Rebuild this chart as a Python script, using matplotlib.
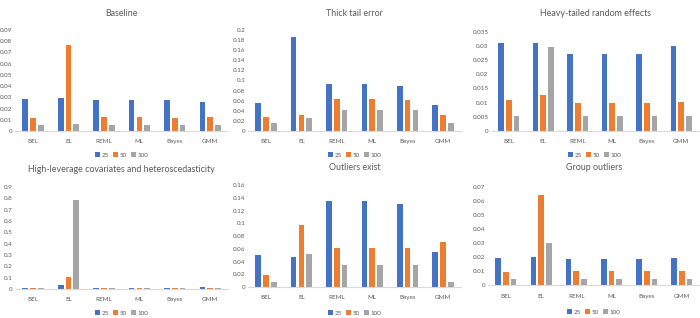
import matplotlib
matplotlib.use("Agg")
import matplotlib.pyplot as plt
import numpy as np
from matplotlib.ticker import FuncFormatter, MultipleLocator

categories = ["BEL", "EL", "REML", "ML", "Bayes", "GMM"]
series_names = ["25", "50", "100"]

baseline_25 = [0.0282, 0.0297, 0.0272, 0.0276, 0.0272, 0.0262]
baseline_50 = [0.0119, 0.0766, 0.0122, 0.0122, 0.0116, 0.0122]
baseline_100 = [0.0056, 0.0062, 0.0050, 0.0050, 0.0050, 0.0056]

thick_25 = [0.0548, 0.1855, 0.0937, 0.0937, 0.0898, 0.0508]
thick_50 = [0.0270, 0.0323, 0.0627, 0.0627, 0.0620, 0.0310]
thick_100 = [0.0152, 0.0250, 0.0416, 0.0416, 0.0416, 0.0165]

heavy_25 = [0.0311, 0.0311, 0.0271, 0.0271, 0.0270, 0.0300]
heavy_50 = [0.0109, 0.0128, 0.0100, 0.0100, 0.0100, 0.0101]
heavy_100 = [0.0054, 0.0295, 0.0054, 0.0054, 0.0054, 0.0054]

lever_25 = [0.006, 0.032, 0.006, 0.006, 0.006, 0.015]
lever_50 = [0.006, 0.109, 0.006, 0.006, 0.006, 0.006]
lever_100 = [0.005, 0.782, 0.005, 0.005, 0.005, 0.005]

outl_25 = [0.0498, 0.0477, 0.1359, 0.1359, 0.1300, 0.0556]
outl_50 = [0.0184, 0.0980, 0.0619, 0.0619, 0.0614, 0.0713]
outl_100 = [0.0084, 0.0514, 0.0341, 0.0341, 0.0341, 0.0084]

group_25 = [0.0192, 0.0200, 0.0190, 0.0190, 0.0185, 0.0192]
group_50 = [0.0097, 0.0641, 0.0100, 0.0100, 0.0100, 0.0100]
group_100 = [0.0048, 0.0304, 0.0048, 0.0048, 0.0048, 0.0048]

colors = ["#4472C4", "#ED7D31", "#A5A5A5"]
W, H = 700, 318

plt.rcParams['font.family'] = ['Lato', 'DejaVu Sans']

fig = plt.figure(figsize=(7, 3.18), dpi=100)
fig.patch.set_facecolor("white")

panels = [
    ("Baseline", [baseline_25, baseline_50, baseline_100], 0.09, 0.01, (15.3, 228.0, 30, 131), 14, 155),
    ("Thick tail error", [thick_25, thick_50, thick_100], 0.2, 0.02, (248.3, 460.7, 30, 131), 14, 155),
    ("Heavy-tailed random effects", [heavy_25, heavy_50, heavy_100], 0.035, 0.005, (491.5, 698.5, 31.7, 131), 14, 155),
    ("High-leverage covariates and heteroscedasticity", [lever_25, lever_50, lever_100], 0.9, 0.1, (15.3, 228.0, 187, 289), 170, 313),
    ("Outliers exist", [outl_25, outl_50, outl_100], 0.16, 0.02, (248.3, 460.7, 185.3, 287), 168, 313),
    ("Group outliers", [group_25, group_50, group_100], 0.07, 0.01, (488.3, 699.5, 187, 285.3), 168, 312),
]

def fmt(v, pos):
    v = round(v, 5)
    if v == 0:
        return "0"
    return f"{v:g}"

x = np.arange(len(categories))
offsets = [-0.22, 0.0, 0.22]
for title, data, ymax, step, (x0, x1, yt, yb), ty, ly in panels:
    ax = fig.add_axes([x0 / W, 1 - yb / H, (x1 - x0) / W, (yb - yt) / H])
    handles = []
    for i, vals in enumerate(data):
        h = ax.bar(x + offsets[i], vals, width=0.16, color=colors[i], label=series_names[i], zorder=2)
        handles.append(h)
    ax.set_xlim(-0.5, len(categories) - 0.5)
    ax.set_ylim(0, ymax)
    ax.yaxis.set_major_locator(MultipleLocator(step))
    ax.yaxis.set_major_formatter(FuncFormatter(fmt))
    ax.set_xticks(x)
    ax.set_xticklabels(categories)
    for s in ["top", "right", "left"]:
        ax.spines[s].set_visible(False)
    ax.spines["bottom"].set_color("#D9D9D9")
    ax.spines["bottom"].set_linewidth(0.8)
    ax.tick_params(axis="both", length=0, labelsize=4.5, colors="#595959")
    ax.tick_params(axis="x", pad=6)
    ax.tick_params(axis="y", pad=2)
    ax.set_facecolor("none")
    fig.text(((x0 + x1) / 2) / W, 1 - ty / H, title, ha="center", va="center",
             fontsize=6.4, color="#595959")
    fig.legend(handles=handles, labels=series_names, loc="center",
               bbox_to_anchor=(((x0 + x1) / 2) / W, 1 - ly / H), bbox_transform=fig.transFigure,
               ncol=3, frameon=False, fontsize=4.5, handlelength=0.8, handleheight=0.8,
               columnspacing=0.6, handletextpad=0.3, labelcolor="#595959")

fig.savefig("out.png", dpi=100, facecolor="white")
